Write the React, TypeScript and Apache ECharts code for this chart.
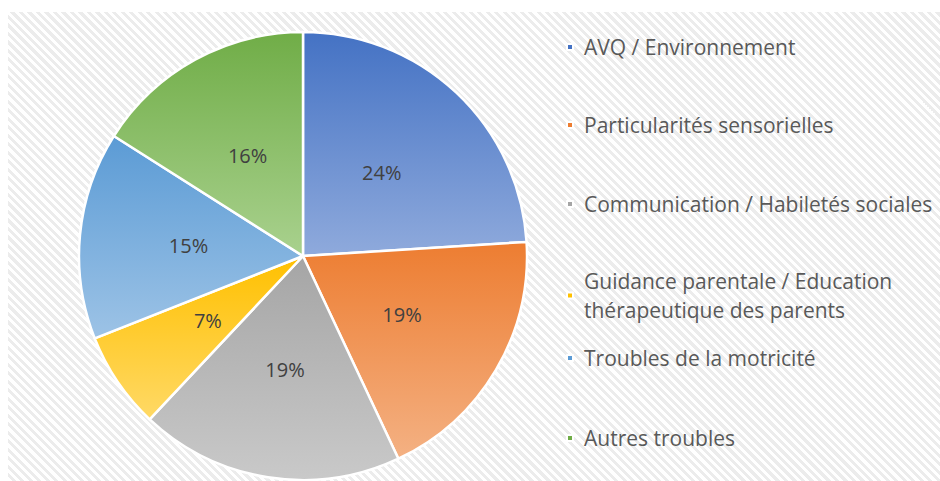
import React, { useEffect, useRef } from 'react';
import * as echarts from 'echarts';

const categories = [
  'AVQ / Environnement',
  'Particularités sensorielles',
  'Communication / Habiletés sociales',
  'Guidance parentale / Education thérapeutique des parents',
  'Troubles de la motricité',
  'Autres troubles',
];
const values = [24, 19, 19, 7, 15, 16];
const topColors = ['#4472C4', '#ED7D31', '#A5A5A5', '#FFC000', '#5B9BD5', '#70AD47'];
const bottomColors = ['#8FAADC', '#F4B183', '#C9C9C9', '#FFD966', '#9DC3E6', '#A9D18E'];

const FONT = '"Open Sans", "Noto Sans", sans-serif';

export default function App() {
  const ref = useRef<HTMLDivElement>(null);
  useEffect(() => {
    if (!ref.current) return;
    const chart = echarts.init(ref.current, undefined, { renderer: 'svg' });
    const legendCenters = [47, 125, 204, 282, 358, 438];
    const legends = categories.map((name, i) => {
      const twoLine = name.startsWith('Guidance');
      return {
        orient: 'vertical',
        left: 566,
        top: twoLine ? legendCenters[i] - 30 : legendCenters[i] - 14.5,
        padding: 0,
        itemWidth: 6,
        itemHeight: 6,
        icon: 'rect',
        selectedMode: false,
        data: [{ name, itemStyle: { color: topColors[i] } }],
        formatter: (n: string) =>
          n === categories[3] ? 'Guidance parentale / Education\nthérapeutique des parents' : n,
        textStyle: {
          fontFamily: FONT,
          fontSize: 21,
          color: '#595959',
          lineHeight: 29,
          padding: twoLine ? [29, 0, 0, 6] : [0, 0, 0, 6],
          backgroundColor: 'rgba(0,0,0,0)',
        },
      };
    });
    chart.setOption({
      animation: false,
      backgroundColor: 'transparent',
      legend: legends,
      series: [
        {
          type: 'pie',
          center: [303, 256],
          radius: 224,
          startAngle: 90,
          clockwise: true,
          itemStyle: { borderColor: '#ffffff', borderWidth: 2.5 },
          label: {
            show: true,
            position: 'inside',
            formatter: '{c}%',
            fontFamily: FONT,
            fontSize: 20,
            color: '#404040',
          },
          labelLine: { show: false },
          emphasis: { disabled: true },
          data: categories.map((name, i) => ({
            name,
            value: values[i],
            itemStyle: {
              color: new echarts.graphic.LinearGradient(0, 0, 0, 1, [
                { offset: 0, color: topColors[i] },
                { offset: 1, color: bottomColors[i] },
              ]),
            },
          })),
        },
      ],
    });
    return () => chart.dispose();
  }, []);
  return (
    <div style={{ position: 'fixed', left: 0, top: 0, width: 940, height: 481, background: '#ffffff' }}>
      <div
        style={{
          position: 'absolute',
          left: 8,
          top: 12,
          width: 932,
          height: 469,
          background:
            'repeating-linear-gradient(45deg, #ffffff 0px, #ffffff 3px, #ececec 3px, #ececec 6px)',
        }}
      />
      <div ref={ref} style={{ position: 'absolute', left: 0, top: 0, width: 940, height: 481 }} />
    </div>
  );
}
